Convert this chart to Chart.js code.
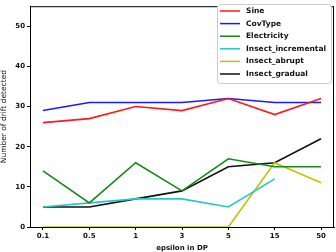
<!DOCTYPE html>
<html>
<head>
<meta charset="utf-8">
<script src="https://cdn.jsdelivr.net/npm/chart.js@4"></script>
<style>
  html, body { margin: 0; padding: 0; background: #fff; }
  #wrap { width: 336px; height: 252px; }
</style>
</head>
<body>
<div id="wrap"><canvas id="driftChart" width="336" height="252"></canvas></div>
<script>
// epsilon values on the x axis (evenly spaced categories)
const epsilons = ['0.1', '0.5', '1', '3', '5', '15', '50'];
const yTicks = [0, 10, 20, 30, 40, 50];

const sine = [26, 27, 30, 29, 32, 28, 32];
const covType = [29, 31, 31, 31, 32, 31, 31];
const electricity = [14, 6, 16, 9, 17, 15, 15];
const insectIncremental = [5, 6, 7, 7, 5, 12, null];
const insectAbrupt = [0, 0, 0, 0, 0, 16, 11];
const insectGradual = [5, 5, 7, 9, 15, 16, 22];

const FONT = 'DejaVu Sans';

function toPoints(arr) {
  return arr.map((v, i) => ({ x: i, y: v }));
}

const series = [
  { label: 'Sine', data: sine, color: '#ff1a1a' },
  { label: 'CovType', data: covType, color: '#1a1aff' },
  { label: 'Electricity', data: electricity, color: '#158a15' },
  { label: 'Insect_incremental', data: insectIncremental, color: '#22c8c8' },
  { label: 'Insect_abrupt', data: insectAbrupt, color: '#c2c200' },
  { label: 'Insect_gradual', data: insectGradual, color: '#111111' }
];

// frame around the plot + legend box inside the plot
const framePlugin = {
  id: 'frame',
  afterDraw(chart) {
    const { ctx, chartArea: a } = chart;
    ctx.save();
    ctx.strokeStyle = '#000';
    ctx.lineWidth = 1;
    ctx.strokeRect(a.left + 0.5, a.top + 0.5, a.right - a.left - 1, a.bottom - a.top);

    // legend
    const bx = 217, by = 4, bw = 114, bh = 79;
    ctx.fillStyle = '#fff';
    ctx.strokeStyle = '#cccccc';
    ctx.beginPath();
    ctx.roundRect(bx + 0.5, by + 0.5, bw, bh, 3);
    ctx.fill();
    ctx.stroke();
    ctx.font = 'bold 7.5px "' + FONT + '"';
    ctx.textBaseline = 'middle';
    series.forEach((s, i) => {
      const y = by + 7 + i * 12.6;
      ctx.strokeStyle = s.color;
      ctx.lineWidth = 1.5;
      ctx.beginPath();
      ctx.moveTo(220, y);
      ctx.lineTo(240, y);
      ctx.stroke();
      ctx.fillStyle = '#111';
      ctx.fillText(s.label, 246, y);
    });
    ctx.restore();
  }
};

new Chart(document.getElementById('driftChart'), {
  type: 'line',
  data: {
    datasets: series.map(s => ({
      label: s.label,
      data: toPoints(s.data),
      borderColor: s.color,
      backgroundColor: s.color,
      borderWidth: 1.6,
      pointRadius: 0,
      tension: 0,
      fill: false,
      spanGaps: false
    }))
  },
  options: {
    responsive: false,
    animation: false,
    layout: { padding: { top: 0, right: 2, left: 0, bottom: 0 } },
    plugins: { legend: { display: false }, tooltip: { enabled: false } },
    scales: {
      x: {
        type: 'linear',
        min: -0.28,
        max: 6.28,
        afterBuildTicks: s => { s.ticks = epsilons.map((_, i) => ({ value: i })); },
        afterFit: s => { s.height = 25; },
        ticks: {
          autoSkip: false,
          maxRotation: 0,
          padding: 2,
          color: '#111',
          font: { family: FONT, size: 7, weight: 'bold' },
          callback: v => epsilons[v]
        },
        grid: { drawOnChartArea: false, drawTicks: true, tickLength: 3, color: '#000' },
        border: { display: true, color: '#000' },
        title: {
          display: true,
          text: 'epsilon in DP',
          color: '#111',
          padding: { top: 0, bottom: 0 },
          font: { family: FONT, size: 7, weight: 'bold' }
        }
      },
      y: {
        min: 0,
        max: 55,
        afterBuildTicks: s => { s.ticks = yTicks.map(v => ({ value: v })); },
        afterFit: s => { s.width = 30; },
        ticks: {
          padding: 2,
          color: '#111',
          font: { family: FONT, size: 7, weight: 'bold' }
        },
        grid: { drawOnChartArea: false, drawTicks: true, tickLength: 3, color: '#000' },
        border: { display: true, color: '#000' },
        title: {
          display: true,
          text: 'Number of drift detected',
          color: '#111',
          padding: { top: 0, bottom: 0 },
          font: { family: FONT, size: 7.5 }
        }
      }
    }
  },
  plugins: [framePlugin]
});
</script>
</body>
</html>
